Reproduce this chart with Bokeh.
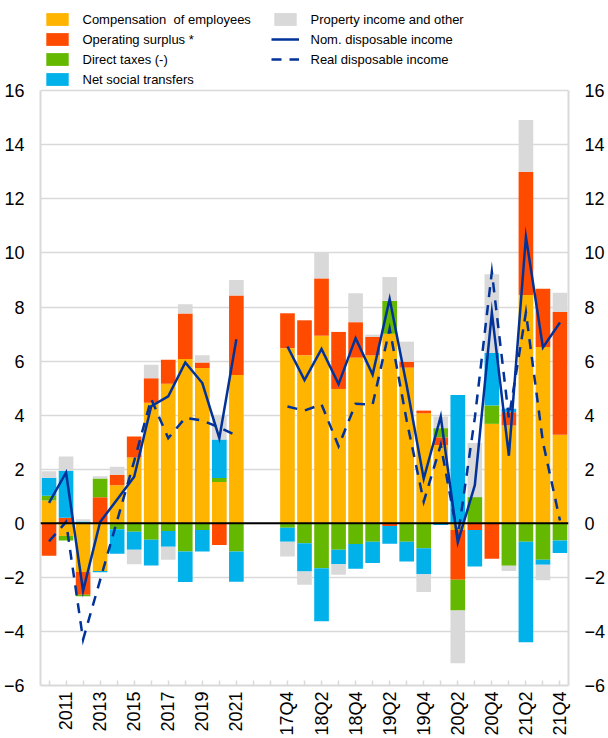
import numpy as np
from bokeh.plotting import figure
from bokeh.models import (Range1d, LinearAxis, FixedTicker, Span, Legend, LegendItem,
                          ColumnDataSource)
from bokeh.embed import file_html
from bokeh.resources import INLINE

# ---------------- data ----------------
years = ["2010", "2011", "2012", "2013", "2014", "2015", "2016", "2017", "2018", "2019", "2020", "2021"]
quarters = ["17Q4", "18Q1", "18Q2", "18Q3", "18Q4", "19Q1", "19Q2", "19Q3", "19Q4",
            "20Q1", "20Q2", "20Q3", "20Q4", "21Q1", "21Q2", "21Q3", "21Q4"]
gap_slots = [" ", "  "]
shown_tick_labels = ["2011", "2013", "2015", "2017", "2019", "2021",
                     "17Q4", "18Q2", "18Q4", "19Q2", "19Q4", "20Q2", "20Q4", "21Q2", "21Q4"]

# annual contributions
comp_y = [0.84, -0.47, -1.80, -1.76, 1.41, 2.43, 4.46, 5.16, 6.08, 5.75, 1.53, 5.49]
opsur_y = [-1.20, 0.21, -0.84, 0.96, 0.39, 0.78, 0.91, 0.89, 1.68, 0.20, -0.80, 2.94]
taxes_y = [0.18, -0.17, -0.06, 0.70, -0.22, -0.31, -0.61, -0.28, -1.04, -0.25, 0.15, -1.04]
transf_y = [0.67, 1.73, 0.07, -0.05, -0.91, -0.67, -0.95, -0.59, -1.13, -0.79, 1.42, -1.12]
prop_y = [0.24, 0.53, 0.08, 0.08, 0.29, -0.53, 0.50, -0.48, 0.34, 0.27, 0.91, 0.57]
nom_y = [0.76, 1.88, -2.50, 0.05, 0.88, 1.72, 4.33, 4.70, 5.95, 5.19, 3.15, 6.81]
real_y = [-0.67, 0.05, -4.30, -2.10, 0.10, 2.30, 4.60, 3.15, 3.90, 3.80, 3.55, 3.25]

# quarterly contributions
comp_q = [6.48, 6.22, 6.94, 4.97, 6.13, 6.21, 7.01, 5.76, 4.07, 2.89, -0.25, 0.05, 3.68, 3.62, 8.45, 6.52, 3.28]
opsur_q = [1.29, 1.29, 2.12, 2.11, 1.31, 0.69, -0.10, 0.22, 0.10, 0.29, -1.84, -0.25, -1.31, 0.49, 4.56, 2.16, 4.54]
taxes_q = [-0.16, -0.74, -1.66, -0.98, -0.77, -0.68, 1.22, -0.68, -0.92, 0.34, -1.14, 0.92, 0.68, -1.57, -0.68, -1.35, -0.64]
transf_q = [-0.52, -1.04, -1.96, -0.53, -0.91, -0.79, -0.66, -0.73, -0.96, -0.06, 4.75, -1.35, 1.94, 0.13, -3.72, -0.18, -0.46]
prop_q = [-0.55, -0.49, 0.98, -0.39, 1.07, 0.08, 0.88, 0.74, -0.66, 0.43, -1.95, 2.00, 2.91, -0.19, 1.91, -0.58, 0.71]
nom_q = [6.54, 5.30, 6.45, 5.15, 6.85, 5.50, 8.30, 5.10, 1.65, 3.95, -0.70, 1.41, 7.80, 2.50, 10.60, 6.51, 7.43]
real_q = [4.32, 4.17, 4.40, 2.85, 4.42, 4.40, 7.20, 3.80, 0.80, 2.90, -0.50, 3.90, 9.30, 3.90, 7.80, 3.00, 0.10]

series_names = ["Compensation  of employees", "Operating surplus *", "Direct taxes (-)",
                "Net social transfers", "Property income and other"]
series_colors = ["#FFB400", "#FF4B00", "#65B800", "#00B1EA", "#D9D9D9"]
line_color = "#003299"

# ---------------- layout of the category slots ----------------
factors = years + gap_slots + quarters          # one slot per period, two empty slots between blocks
slot = {f: i for i, f in enumerate(factors)}
bar_cats = years + quarters
bar_x = [slot[c] for c in bar_cats]
year_x = [slot[c] for c in years]
quarter_x = [slot[c] for c in quarters]
all_series = [comp_y + comp_q, opsur_y + opsur_q, taxes_y + taxes_q,
              transf_y + transf_q, prop_y + prop_q]

FONT = "Liberation Sans"
Y_MIN, Y_MAX = -6, 16
PX_PER_UNIT = 27.15
BOTTOM_BORDER = 50
FRAME_H = 738 - BOTTOM_BORDER
# the frame reaches the top of the canvas so the legend can sit above the value axis
y_top = Y_MIN + FRAME_H / PX_PER_UNIT

p = figure(width=608, height=738, x_range=Range1d(-0.5, len(factors) - 0.5),
           y_range=Range1d(Y_MIN, y_top), output_backend="svg", toolbar_location=None,
           x_axis_location=None,
           min_border_left=40, min_border_right=40, min_border_top=0,
           min_border_bottom=BOTTOM_BORDER)
p.outline_line_color = None
p.background_fill_color = "white"
p.border_fill_color = "white"

pos_base = np.zeros(len(bar_cats))
neg_base = np.zeros(len(bar_cats))
bar_renderers = []
for vals, name, color in zip(all_series, series_names, series_colors):
    v = np.array(vals, dtype=float)
    pos = np.clip(v, 0, None)
    neg = np.clip(v, None, 0)
    top_p = pos_base + pos
    bot_n = neg_base + neg
    src_p = ColumnDataSource(dict(x=bar_x, cat=bar_cats, top=top_p, bottom=pos_base.copy()))
    src_n = ColumnDataSource(dict(x=bar_x, cat=bar_cats, top=neg_base.copy(), bottom=bot_n))
    r1 = p.vbar(x="x", top="top", bottom="bottom", width=0.86, source=src_p,
                fill_color=color, line_color=None)
    p.vbar(x="x", top="top", bottom="bottom", width=0.86, source=src_n,
           fill_color=color, line_color=None)
    bar_renderers.append(r1)
    pos_base = top_p
    neg_base = bot_n

p.add_layout(Span(location=0, dimension="width", line_color="black", line_width=2))

nom1 = p.line(year_x, nom_y, line_color=line_color, line_width=2.5, line_join="miter")
p.line(quarter_x, nom_q, line_color=line_color, line_width=2.5, line_join="miter")
real1 = p.line(year_x, real_y, line_color=line_color, line_width=2.5, line_dash="10 8", line_join="miter")
p.line(quarter_x, real_q, line_color=line_color, line_width=2.5, line_dash="10 8", line_join="miter")

# ---------------- axes ----------------
yticks = list(range(Y_MIN, Y_MAX + 1, 2))


def style_value_axis(ax):
    ax.ticker = FixedTicker(ticks=yticks)
    ax.bounds = (Y_MIN, Y_MAX)
    ax.major_tick_line_color = None
    ax.minor_tick_line_color = None
    ax.axis_line_color = "#D9D9D9"
    ax.axis_line_width = 2
    ax.major_label_text_font = FONT
    ax.major_label_text_font_size = "18px"
    ax.major_label_text_color = "black"
    ax.major_label_standoff = 10


style_value_axis(p.yaxis[0])
ry = LinearAxis()
style_value_axis(ry)
p.add_layout(ry, "right")

# x axis: one tick per slot (incl. the gap), labels on every other period
xa = LinearAxis(ticker=FixedTicker(ticks=list(range(len(factors)))))
xa.major_label_overrides = {i: (f if f in shown_tick_labels else "") for i, f in enumerate(factors)}
xa.major_label_orientation = np.pi / 2
xa.major_label_text_font = FONT
xa.major_label_text_font_size = "18px"
xa.major_label_text_color = "black"
xa.major_label_standoff = 6
xa.axis_line_color = "#D9D9D9"
xa.axis_line_width = 2
xa.major_tick_line_color = "#D9D9D9"
xa.major_tick_line_width = 1.5
xa.major_tick_in = 5
xa.major_tick_out = 0
xa.minor_tick_line_color = None
p.add_layout(xa, "below")

p.xgrid.grid_line_color = None
p.ygrid.ticker = FixedTicker(ticks=yticks)
p.ygrid.grid_line_color = "#D9D9D9"
p.ygrid.grid_line_width = 1.5

# ---------------- legend ----------------
items = [LegendItem(label=series_names[i], renderers=[bar_renderers[i]]) for i in range(5)]
items += [LegendItem(label="Nom. disposable income", renderers=[nom1]),
          LegendItem(label="Real disposable income", renderers=[real1])]
leg = Legend(items=items, location=(2.5, 598), orientation="vertical", ncols=2)
leg.padding = 0
leg.margin = 0
leg.spacing = 4
leg.glyph_width = 28
leg.glyph_height = 16
leg.label_height = 16
leg.label_width = 184
leg.label_standoff = 12
leg.label_text_font = FONT
leg.label_text_font_size = "13px"
leg.label_text_color = "black"
leg.border_line_color = None
leg.background_fill_alpha = 0
p.add_layout(leg, "center")

open("out.html", "w").write(file_html(p, INLINE))
